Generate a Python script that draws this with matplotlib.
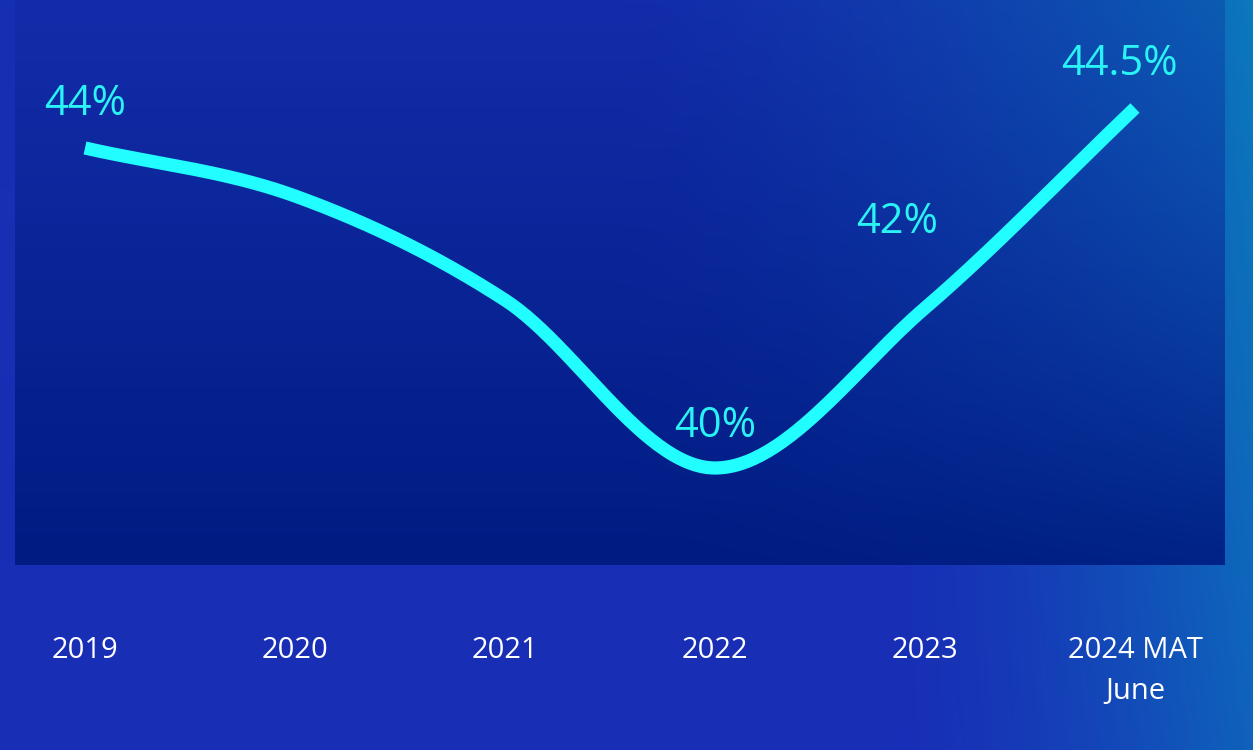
import numpy as np
import matplotlib
matplotlib.use('Agg')
import matplotlib.pyplot as plt

plt.rcParams['font.family'] = ['Open Sans', 'DejaVu Sans']

# share by year (%)
years = ['2019', '2020', '2021', '2022', '2023', '2024 MAT\nJune']
share = [44.0, 43.4, 42.1, 40.0, 42.0, 44.5]
labelled = [0, 3, 4, 5]
value_labels = ['44%', '40%', '42%', '44.5%']
# label offsets in points (dx, dy)
offsets = [(0, 32), (0, 30), (-20, 62), (-11, 32)]

LINE = '#22fdff'
LABEL = '#2af3f6'


def monotone_x(x, y, n=60):
    # monotone cubic interpolation, secant slopes at both ends
    x = np.asarray(x, float)
    y = np.asarray(y, float)
    h = np.diff(x)
    s = np.diff(y) / h
    m = np.zeros_like(y)
    for k in range(1, len(y) - 1):
        s0, s1 = s[k - 1], s[k]
        p = (s0 * h[k] + s1 * h[k - 1]) / (h[k - 1] + h[k])
        m[k] = (np.sign(s0) + np.sign(s1)) * min(abs(s0), abs(s1), 0.5 * abs(p))
    m[0] = s[0]
    m[-1] = s[-1]
    xs, ys = [], []
    for k in range(len(y) - 1):
        t = np.linspace(0, 1, n)
        h00 = 2 * t**3 - 3 * t**2 + 1
        h10 = t**3 - 2 * t**2 + t
        h01 = -2 * t**3 + 3 * t**2
        h11 = t**3 - t**2
        xs.append(x[k] + t * h[k])
        ys.append(h00 * y[k] + h10 * h[k] * m[k] + h01 * y[k + 1] + h11 * h[k] * m[k + 1])
    return np.concatenate(xs), np.concatenate(ys)


def gradient(w, h, top, bottom, teal, x0, strength, fade=0.0):
    # vertical blend top->bottom, teal glow growing toward the right (and the top)
    xf = np.linspace(0, 1, w)[None, :, None]
    yf = np.linspace(0, 1, h)[:, None, None]
    base = np.array(top)[None, None, :] * (1 - yf) + np.array(bottom)[None, None, :] * yf
    wt = np.clip((xf - x0) / (1 - x0), 0, 1) ** 1.5 * strength
    wt = wt * (1 - fade * yf)
    img = base * (1 - wt) + np.array(teal)[None, None, :] * wt
    return img / 255.0


fig = plt.figure(figsize=(12.53, 7.5), dpi=100)

# outer background
bg = fig.add_axes([0, 0, 1, 1], zorder=0)
bg.imshow(gradient(250, 150, (22, 48, 178), (24, 46, 182), (10, 128, 190), 0.7, 0.9, fade=0.3),
          extent=[0, 1, 0, 1], aspect='auto', interpolation='bilinear')
bg.axis('off')

ax = fig.add_axes([15 / 1253, 185 / 750, 1210 / 1253, 565 / 750], zorder=1)
ax.set_facecolor('none')

x = np.arange(len(share))
xmin, xmax = -70 / 210, 1140 / 210
ymin, ymax = 44 - 417 / 80, 44 + 148 / 80

# inner panel
panel = gradient(250, 120, (19, 44, 170), (0, 28, 130), (10, 100, 180), 0.5, 0.85, fade=0.9)
ax.imshow(panel, extent=[xmin, xmax, ymin, ymax], aspect='auto',
          interpolation='bilinear', zorder=0)

cx, cy = monotone_x(x, share)
ax.plot(cx, cy, color=LINE, lw=9.5, solid_capstyle='butt', solid_joinstyle='round', zorder=3)

for i, txt, (dx, dy) in zip(labelled, value_labels, offsets):
    ax.annotate(txt, (x[i], share[i]), xytext=(dx, dy), textcoords='offset points',
                ha='center', va='center', fontsize=30, color=LABEL, zorder=4)

ax.set_xlim(xmin, xmax)
ax.set_ylim(ymin, ymax)
ax.set_xticks(x)
ax.set_xticklabels(years, fontsize=21, color='white', linespacing=1.55)
ax.tick_params(axis='x', length=0, pad=51)
ax.set_yticks([])
for sp in ax.spines.values():
    sp.set_visible(False)

fig.savefig('out.png', dpi=100)
